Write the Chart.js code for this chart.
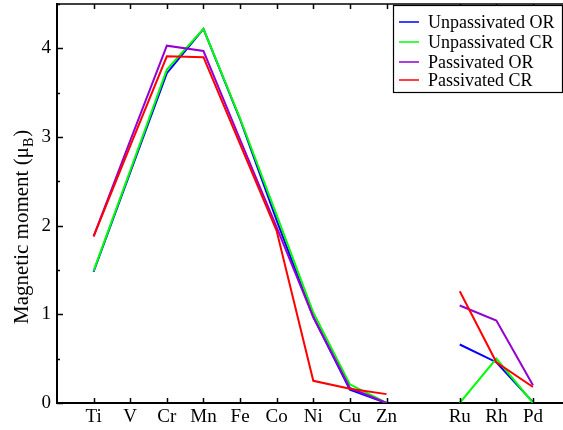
<!DOCTYPE html>
<html>
<head>
<meta charset="utf-8">
<script src="https://cdn.jsdelivr.net/npm/chart.js@4/dist/chart.umd.min.js"></script>
<style>
  html, body { margin: 0; padding: 0; background: #fff; overflow: hidden; }
  #wrap { width: 563px; height: 430px; position: relative; }
</style>
</head>
<body>
<div id="wrap"><canvas id="moments"></canvas></div>
<script>
// elements along the x axis, '' leaves an empty slot between the 3d and 4d rows
const elements = ['Ti', 'V', 'Cr', 'Mn', 'Fe', 'Co', 'Ni', 'Cu', 'Zn', '', 'Ru', 'Rh', 'Pd'];

const unpassOR = [1.48, 2.60, 3.72, 4.22, 3.20, 2.06, 0.97, 0.15, 0.00, null, 0.66, 0.46, 0.01];
const unpassCR = [1.49, 2.62, 3.76, 4.22, 3.21, 2.12, 1.02, 0.21, 0.00, null, 0.00, 0.50, 0.00];
const passOR   = [1.88, 2.96, 4.03, 3.97, 2.97, 1.98, 0.97, 0.17, 0.00, null, 1.10, 0.93, 0.20];
const passCR   = [1.88, 2.90, 3.91, 3.90, 2.92, 1.94, 0.25, 0.16, 0.10, null, 1.26, 0.46, 0.18];

const yTicks = [0, 1, 2, 3, 4];

const seriesNames = ['Unpassivated OR', 'Unpassivated CR', 'Passivated OR', 'Passivated CR'];
const seriesColors = ['#0000ff', '#00ff00', '#9400d3', '#ff0000'];

const serif = '"Liberation Serif", "DejaVu Serif", serif';

function toPoints(values) {
    return values.map((v, i) => ({ x: i, y: v }));
}

// later series are painted over earlier ones
const datasets = [unpassOR, unpassCR, passOR, passCR].map((vals, k) => ({
    label: seriesNames[k],
    data: toPoints(vals),
    borderColor: seriesColors[k],
    backgroundColor: seriesColors[k],
    borderWidth: 2,
    pointRadius: 0,
    tension: 0,
    spanGaps: false,
    order: 3 - k
}));

// inward ticks on the frame, top edge line, legend box and the y title with subscript
const framePlugin = {
    id: 'frame',
    afterDatasetsDraw(chart) {
        const { ctx, chartArea: a, scales: { x, y } } = chart;
        ctx.save();
        ctx.strokeStyle = '#000';
        ctx.lineWidth = 1.5;

        // top edge
        ctx.beginPath();
        ctx.moveTo(a.left, a.top);
        ctx.lineTo(a.right, a.top);
        ctx.stroke();

        // category ticks, bottom and top
        ctx.beginPath();
        elements.forEach((el, i) => {
            if (!el) return;
            const px = Math.round(x.getPixelForValue(i)) + 0.5;
            ctx.moveTo(px, a.bottom);
            ctx.lineTo(px, a.bottom - 5);
            ctx.moveTo(px, a.top);
            ctx.lineTo(px, a.top + 5);
        });
        // major and minor ticks on the left
        for (let v = 0; v <= 4.5; v += 0.5) {
            const py = Math.round(y.getPixelForValue(v)) + 0.5;
            const len = Number.isInteger(v) ? 6 : 3;
            ctx.moveTo(a.left, py);
            ctx.lineTo(a.left + len, py);
        }
        ctx.stroke();

        // legend
        const bx = 393, by = 5, bw = 169, bh = 87;
        ctx.fillStyle = '#fff';
        ctx.fillRect(bx, by, bw, bh);
        ctx.lineWidth = 1.2;
        ctx.strokeRect(bx + 0.5, by + 0.5, bw, bh);
        ctx.font = '18px ' + serif;
        ctx.textBaseline = 'middle';
        ctx.textAlign = 'left';
        const rows = [22, 42, 62, 80];
        seriesNames.forEach((name, k) => {
            ctx.strokeStyle = seriesColors[k];
            ctx.lineWidth = 1.5;
            ctx.beginPath();
            ctx.moveTo(399, rows[k]);
            ctx.lineTo(419, rows[k]);
            ctx.stroke();
            ctx.fillStyle = '#000';
            ctx.fillText(name, 428, rows[k] + 1);
        });

        // y axis title: Magnetic moment (μB) with B as subscript
        ctx.save();
        ctx.translate(28, 324);
        ctx.rotate(-Math.PI / 2);
        ctx.fillStyle = '#000';
        ctx.textBaseline = 'alphabetic';
        ctx.font = '21px ' + serif;
        const head = 'Magnetic moment (\u03bc';
        ctx.fillText(head, 0, 0);
        let w = ctx.measureText(head).width;
        ctx.font = '14px ' + serif;
        ctx.fillText('B', w, 5);
        w += ctx.measureText('B').width;
        ctx.font = '21px ' + serif;
        ctx.fillText(')', w + 1, 0);
        ctx.restore();

        ctx.restore();
    }
};

new Chart(document.getElementById('moments'), {
    type: 'line',
    data: { datasets },
    options: {
        responsive: true,
        maintainAspectRatio: false,
        animation: false,
        layout: { padding: { top: 4, right: 0, left: 0, bottom: 0 } },
        plugins: {
            legend: { display: false },
            tooltip: { enabled: false }
        },
        scales: {
            x: {
                type: 'linear',
                min: -1,
                max: 12.82,
                afterBuildTicks: (scale) => {
                    scale.ticks = elements
                        .map((el, i) => ({ value: i, label: el }))
                        .filter(t => t.label);
                },
                afterFit: (scale) => {
                    scale.height = 27;
                    scale.paddingLeft = 0;
                    scale.paddingRight = 0;
                },
                grid: { display: false, drawTicks: false },
                border: { display: true, color: '#000', width: 2 },
                ticks: {
                    autoSkip: false,
                    maxRotation: 0,
                    padding: 3,
                    color: '#000',
                    font: { family: serif, size: 19 },
                    callback: (v) => elements[v]
                }
            },
            y: {
                min: 0,
                max: 4.5,
                afterBuildTicks: (scale) => {
                    scale.ticks = yTicks.map(v => ({ value: v }));
                },
                afterFit: (scale) => {
                    scale.width = 57;
                    scale.paddingTop = 0;
                    scale.paddingBottom = 0;
                },
                grid: { display: false, drawTicks: false },
                border: { display: true, color: '#000', width: 2 },
                ticks: {
                    padding: 6,
                    color: '#000',
                    font: { family: serif, size: 19 }
                }
            }
        }
    },
    plugins: [framePlugin]
});
</script>
</body>
</html>
